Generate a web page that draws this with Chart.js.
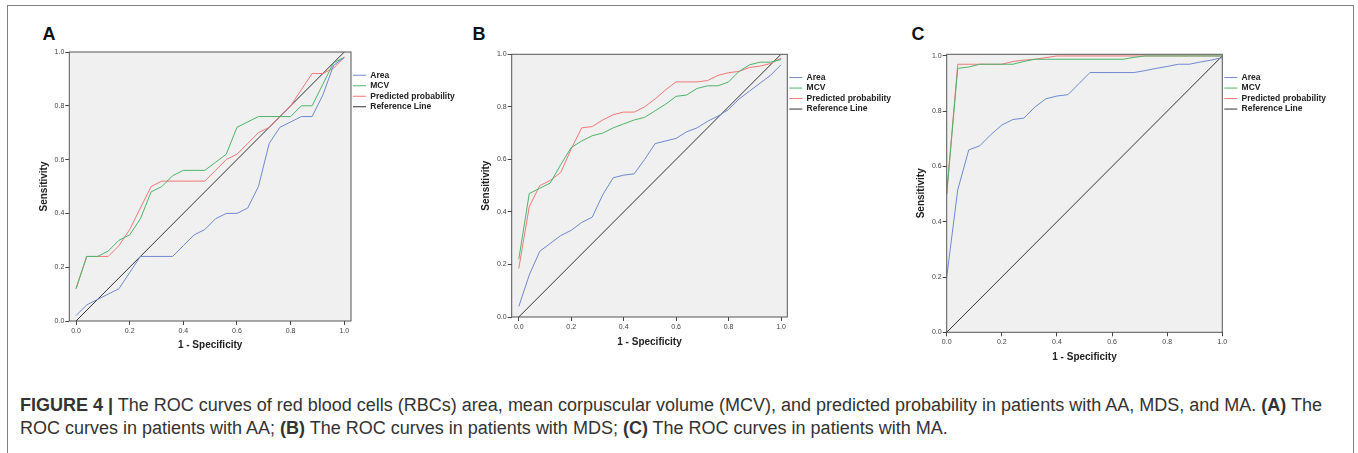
<!DOCTYPE html>
<html lang="en">
<head>
<meta charset="UTF-8">
<title>Figure 4 - ROC curves</title>
<script src="https://cdn.jsdelivr.net/npm/chart.js"></script>
<style>
    html, body { margin: 0; padding: 0; background: #fff; }
    #figure {
        position: relative;
        width: 1358px;
        height: 453px;
        overflow: hidden;
        font-family: 'Liberation Sans', Arial, sans-serif;
    }
    #frame {
        position: absolute;
        left: 7px;
        top: 5px;
        width: 1347px;
        height: 470px;
        border: 1px solid #808080;
        box-sizing: border-box;
    }
    .panel-letter {
        position: absolute;
        top: 24.6px;
        font-size: 18px;
        line-height: 18px;
        font-weight: bold;
        color: #111;
    }
    .chart-box { position: absolute; top: 0; }
    #caption {
        position: absolute;
        left: 20px;
        top: 393.8px;
        font-size: 18px;
        line-height: 23px;
        color: #333;
        white-space: nowrap;
    }
</style>
</head>
<body>
<div id="figure">
    <div id="frame"></div>

    <div class="panel-letter" style="left:42.5px">A</div>
    <div class="panel-letter" style="left:472.5px">B</div>
    <div class="panel-letter" style="left:911.5px">C</div>

    <div class="chart-box" style="left:30px"><canvas id="chartA" width="429" height="356"></canvas></div>
    <div class="chart-box" style="left:470px"><canvas id="chartB" width="426" height="352"></canvas></div>
    <div class="chart-box" style="left:905px"><canvas id="chartC" width="426" height="367"></canvas></div>

    <div id="caption"><b>FIGURE 4 |</b> The ROC curves of red blood cells (RBCs) area, mean corpuscular volume (MCV), and predicted probability in patients with AA, MDS, and MA. <b>(A)</b> The<br>ROC curves in patients with AA; <b>(B)</b> The ROC curves in patients with MDS; <b>(C)</b> The ROC curves in patients with MA.</div>
</div>

<script>
    // 1 - specificity steps shared by every curve (25 negatives per group)
    const fpr = [0, 0.04, 0.08, 0.12, 0.16, 0.20, 0.24, 0.28, 0.32, 0.36, 0.40, 0.44, 0.48,
                 0.52, 0.56, 0.60, 0.64, 0.68, 0.72, 0.76, 0.80, 0.84, 0.88, 0.92, 0.96, 1.0];
    const refX = [0, 1];
    const refY = [0, 1];
    const tickValues = [0, 0.2, 0.4, 0.6, 0.8, 1.0];
    const seriesLabels = ['Area', 'MCV', 'Predicted probability', 'Reference Line'];

    // A - AA
    const areaA = [0.02, 0.06, 0.08, 0.10, 0.12, 0.18, 0.24, 0.24, 0.24, 0.24, 0.28, 0.32, 0.34,
                   0.38, 0.40, 0.40, 0.42, 0.50, 0.66, 0.72, 0.74, 0.76, 0.76, 0.84, 0.95, 0.98];
    const mcvA  = [0.12, 0.24, 0.24, 0.26, 0.30, 0.32, 0.38, 0.48, 0.50, 0.54, 0.56, 0.56, 0.56,
                   0.59, 0.62, 0.72, 0.74, 0.76, 0.76, 0.76, 0.76, 0.80, 0.80, 0.88, 0.96, 0.98];
    const predA = [0.12, 0.24, 0.24, 0.24, 0.28, 0.34, 0.42, 0.50, 0.52, 0.52, 0.52, 0.52, 0.52,
                   0.56, 0.60, 0.62, 0.66, 0.70, 0.72, 0.76, 0.80, 0.86, 0.92, 0.92, 0.94, 0.98];

    // B - MDS
    const areaB = [0.04, 0.16, 0.25, 0.28, 0.31, 0.33, 0.36, 0.38, 0.465, 0.53, 0.54, 0.545, 0.60,
                   0.66, 0.67, 0.68, 0.705, 0.72, 0.745, 0.765, 0.79, 0.83, 0.86, 0.89, 0.92, 0.96];
    const mcvB  = [0.22, 0.47, 0.49, 0.51, 0.58, 0.645, 0.67, 0.69, 0.70, 0.72, 0.735, 0.75, 0.76,
                   0.785, 0.81, 0.84, 0.845, 0.87, 0.88, 0.88, 0.895, 0.935, 0.96, 0.97, 0.97, 0.98];
    const predB = [0.185, 0.42, 0.50, 0.52, 0.55, 0.64, 0.72, 0.725, 0.75, 0.77, 0.78, 0.78, 0.80,
                   0.83, 0.865, 0.895, 0.895, 0.895, 0.90, 0.92, 0.93, 0.935, 0.95, 0.955, 0.965, 0.985];

    // C - MA
    const areaC = [0.20, 0.515, 0.66, 0.675, 0.715, 0.75, 0.77, 0.775, 0.815, 0.845, 0.855, 0.86, 0.90,
                   0.94, 0.94, 0.94, 0.94, 0.94, 0.947, 0.955, 0.962, 0.97, 0.97, 0.978, 0.985, 0.994];
    const mcvC  = [0.50, 0.955, 0.96, 0.97, 0.97, 0.97, 0.97, 0.98, 0.988, 0.988, 0.988, 0.988, 0.988,
                   0.988, 0.988, 0.988, 0.988, 0.995, 1.0, 1.0, 1.0, 1.0, 1.0, 1.0, 1.0, 1.0];
    const predC = [0.50, 0.97, 0.97, 0.97, 0.97, 0.97, 0.98, 0.985, 0.988, 0.994, 1.0, 1.0, 1.0,
                   1.0, 1.0, 1.0, 1.0, 1.0, 1.0, 1.0, 1.0, 1.0, 1.0, 1.0, 1.0, 1.0];

    const lineColors = ['#7088d0', '#4db46a', '#f07878', '#333333'];

    Chart.defaults.font.family = "'Liberation Sans', Arial, sans-serif";

    // grey plot background + dark frame, SPSS style
    const plotFrame = {
        id: 'plotFrame',
        beforeDraw(chart) {
            const { ctx, chartArea: a } = chart;
            ctx.save();
            ctx.fillStyle = '#f0f0f0';
            ctx.fillRect(a.left, a.top, a.width, a.height);
            ctx.restore();
        },
        afterDatasetsDraw(chart) {
            const { ctx, chartArea: a } = chart;
            ctx.save();
            ctx.strokeStyle = '#555';
            ctx.lineWidth = 1;
            ctx.strokeRect(a.left, a.top, a.width, a.height);
            ctx.restore();
        }
    };

    function buildDatasets(area, mcv, pred) {
        const toPoints = ys => ys.map((y, i) => ({ x: fpr[i], y: y }));
        const sets = [
            { label: seriesLabels[0], data: toPoints(area) },
            { label: seriesLabels[1], data: toPoints(mcv) },
            { label: seriesLabels[2], data: toPoints(pred) },
            { label: seriesLabels[3], data: refX.map((x, i) => ({ x: x, y: refY[i] })) }
        ];
        return sets.map((ds, i) => Object.assign(ds, {
            borderColor: lineColors[i],
            backgroundColor: lineColors[i],
            borderWidth: 1,
            pointRadius: 0,
            tension: 0,
            fill: false
        }));
    }

    function makeChart(canvasId, datasets, box) {
        const tickFont = { size: 7 };
        const titleFont = { size: 10, weight: 'bold' };
        return new Chart(document.getElementById(canvasId), {
            type: 'line',
            data: { datasets: datasets },
            options: {
                responsive: false,
                animation: false,
                events: [],
                layout: { padding: box.padding },
                plugins: {
                    tooltip: { enabled: false },
                    legend: {
                        position: 'right',
                        align: 'start',
                        // fixed legend width so the plot frame lands where it should
                        maxWidth: 108,
                        title: { display: true, text: '', font: { size: 1, lineHeight: 1 }, padding: { top: 16, bottom: 0 } },
                        labels: {
                            usePointStyle: true,
                            pointStyle: 'line',
                            pointStyleWidth: 13,
                            padding: 2,
                            textAlign: 'left',
                            color: '#222',
                            font: { size: 8.5, weight: 'bold' }
                        }
                    }
                },
                scales: {
                    x: {
                        type: 'linear',
                        min: box.xMin,
                        max: box.xMax,
                        afterBuildTicks: s => { s.ticks = tickValues.map(v => ({ value: v })); },
                        afterFit: s => { s.height = box.xAxisHeight; },
                        ticks: { callback: v => v.toFixed(1), font: tickFont, color: '#444', padding: 2, maxRotation: 0, autoSkip: false },
                        grid: { drawOnChartArea: false, tickLength: 4, color: '#444' },
                        border: { display: false },
                        title: { display: true, text: '1 - Specificity', font: titleFont, color: '#222', padding: 0 }
                    },
                    y: {
                        type: 'linear',
                        min: 0,
                        max: box.yMax,
                        afterBuildTicks: s => { s.ticks = tickValues.map(v => ({ value: v })); },
                        afterFit: s => { s.width = box.yAxisWidth; },
                        ticks: { callback: v => v.toFixed(1), font: tickFont, color: '#444', padding: 1, autoSkip: false },
                        grid: { drawOnChartArea: false, tickLength: 4, color: '#444' },
                        border: { display: false },
                        title: { display: true, text: 'Sensitivity', font: titleFont, color: '#222', padding: 0 }
                    }
                }
            },
            plugins: [plotFrame]
        });
    }

    makeChart('chartA', buildDatasets(areaA, mcvA, predA), {
        padding: { left: 8, top: 52, right: 0, bottom: 5 },
        yAxisWidth: 31.3, xAxisHeight: 30, xMin: -0.025, xMax: 1.025, yMax: 1
    });
    makeChart('chartB', buildDatasets(areaB, mcvB, predB), {
        padding: { left: 10.7, top: 54.3, right: 0.7, bottom: 4 },
        yAxisWidth: 31, xAxisHeight: 31, xMin: -0.027, xMax: 1.024, yMax: 1
    });
    makeChart('chartC', buildDatasets(areaC, mcvC, predC), {
        padding: { left: 10.7, top: 54.3, right: 0.7, bottom: 4 },
        yAxisWidth: 31, xAxisHeight: 30.7, xMin: 0, xMax: 1, yMax: 1.006
    });
</script>
</body>
</html>
